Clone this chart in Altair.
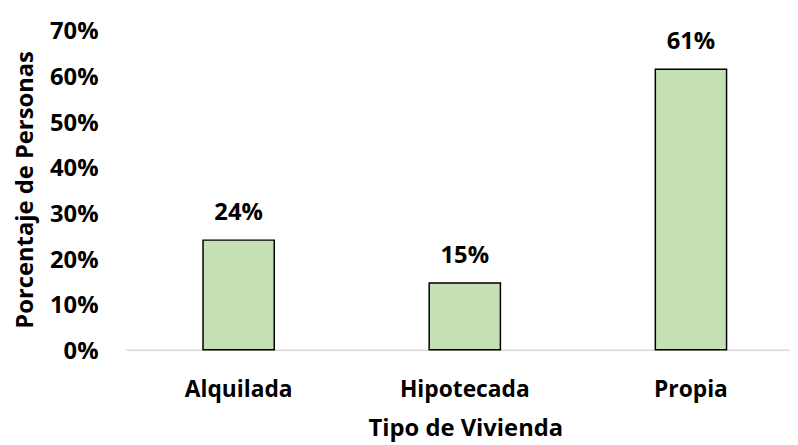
import altair as alt
import pandas as pd

categorias = ["Alquilada", "Hipotecada", "Propia"]
valores = [0.240, 0.146, 0.614]
etiquetas = ["24%", "15%", "61%"]

df = pd.DataFrame({"tipo": categorias, "valor": valores, "etiqueta": etiquetas})

FONT = "Open Sans"

x = alt.X(
    "tipo:N",
    sort=categorias,
    scale=alt.Scale(paddingInner=0.685, paddingOuter=0.311, align=0.549),
    axis=alt.Axis(
        title="Tipo de Vivienda",
        labelAngle=0,
        labelFont=FONT,
        labelFontSize=23,
        labelFontWeight="bold",
        labelColor="black",
        labelPadding=29,
        ticks=False,
        domainColor="#d9d9d9",
        domainWidth=1.5,
        titleFont=FONT,
        titleFontSize=24,
        titleFontWeight="bold",
        titleColor="black",
        titleX=343,
        titleY=87,
        titleBaseline="alphabetic",
        titleAnchor="start",
        titleAlign="center",
    ),
)

y = alt.Y(
    "valor:Q",
    scale=alt.Scale(domain=[0, 0.7]),
    axis=alt.Axis(
        title="Porcentaje de Personas",
        format=".0%",
        values=[0, 0.1, 0.2, 0.3, 0.4, 0.5, 0.6, 0.7],
        labelFont=FONT,
        labelFontSize=24,
        labelFontWeight="bold",
        labelColor="black",
        labelPadding=28,
        labelOffset=2,
        ticks=False,
        domain=False,
        grid=False,
        titleFont=FONT,
        titleFontSize=24,
        titleFontWeight="bold",
        titleColor="black",
        titleX=-101,
        titleY=161,
        titleBaseline="middle",
        titleAlign="center",
        titleAngle=270,
    ),
)

bars = alt.Chart(df).mark_bar(
    color="#c5e0b4", stroke="black", strokeWidth=1.5
).encode(x=x, y=y)

text = alt.Chart(df).mark_text(
    font=FONT, fontSize=24, fontWeight="bold", color="black",
    baseline="middle", dy=-27
).encode(x=alt.X("tipo:N", sort=categorias), y="valor:Q", text="etiqueta:N")

chart = (bars + text).properties(
    width=671, height=323,
    autosize=alt.AutoSizeParams(type="none"),
    padding={"left": 119, "top": 20, "right": 0, "bottom": 94},
).configure_view(stroke=None)

chart.save("out.html", embed_options={"renderer": "svg", "actions": False})
